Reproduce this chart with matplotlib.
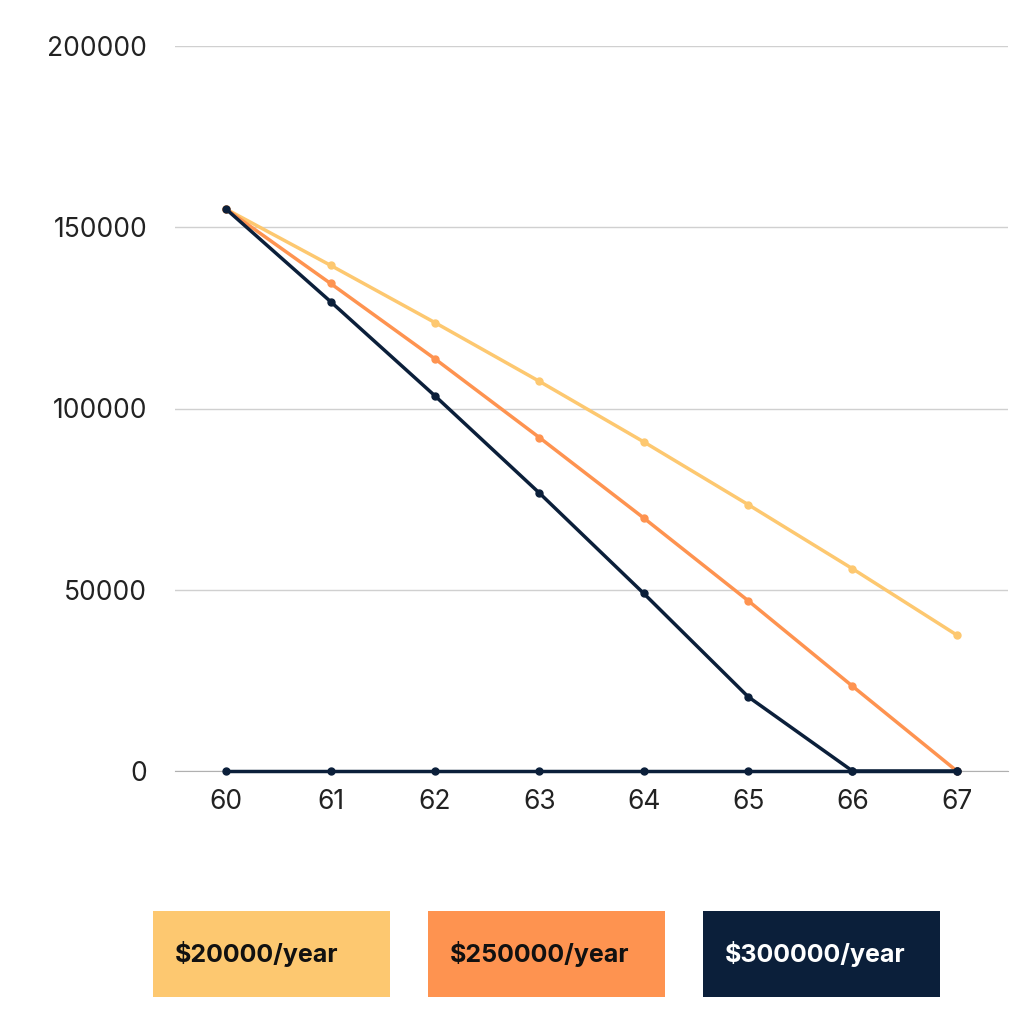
import matplotlib
matplotlib.use("Agg")
import matplotlib.pyplot as plt
from matplotlib.patches import Rectangle

ages = [60, 61, 62, 63, 64, 65, 66, 67]
s20000 = [155000, 139500, 123700, 107500, 90800, 73500, 55800, 37500]
s250000 = [155000, 134500, 113700, 92000, 69800, 47000, 23400, 0]
s300000 = [155000, 129500, 103500, 76700, 49000, 20500, 0, 0]
zeros = [0, 0, 0, 0, 0, 0, 0, 0]
labels = ["$20000/year", "$250000/year", "$300000/year"]
colors = ["#FDC870", "#FE9350", "#0B1F3A"]
yticks = [0, 50000, 100000, 150000, 200000]

plt.rcParams['font.family'] = ['Inter', 'DejaVu Sans']
W, H = 1018, 1024
fig = plt.figure(figsize=(W/100, H/100), dpi=100)
ax = fig.add_axes([175/W, 1-771/H, (1008-175)/W, (771-46)/H])

for data, c in zip([s20000, s250000, s300000], colors):
    ax.plot(ages, data, color=c, lw=2.5, marker='o', ms=5, zorder=3, clip_on=False)
ax.plot(ages, zeros, color=colors[2], lw=2.5, marker='o', ms=5, zorder=4, clip_on=False)

ax.set_xlim(59.51, 67.49)
ax.set_ylim(0, 200000)
ax.set_yticks(yticks)
ax.set_yticklabels([str(v) for v in yticks])
ax.set_xticks(ages)
ax.grid(axis='y', color='#d0d0d0', lw=1)
ax.set_axisbelow(True)
for s in ['top', 'right', 'left']:
    ax.spines[s].set_visible(False)
ax.spines['bottom'].set_color('#b0b0b0')
ax.tick_params(length=0, labelsize=19, colors='#222222')
ax.tick_params(axis='y', pad=20)
ax.tick_params(axis='x', pad=13)

boxes = [153, 428, 703]
for x0, lab, c in zip(boxes, labels, colors):
    fig.patches.append(Rectangle((x0/W, 1-997/H), 237/W, 86/H, transform=fig.transFigure,
                                 facecolor=c, edgecolor='none'))
    fig.text((x0+22)/W, 1-954/H, lab, ha='left', va='center', fontsize=18,
             fontweight='bold', color='white' if c == colors[2] else '#111111')

fig.savefig("out.png", dpi=100, facecolor='white')
